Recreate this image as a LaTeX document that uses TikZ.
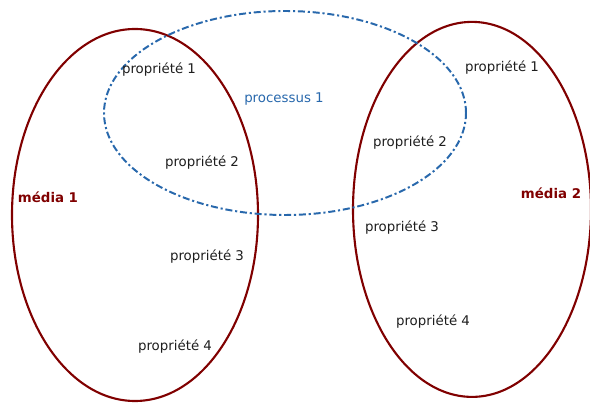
\documentclass[tikz,border=0pt]{standalone}
\usepackage{fontspec}
\setmainfont{DejaVu Sans}
\usepackage{tikz}
\usetikzlibrary{shapes.geometric}
\definecolor{mediared}{RGB}{128,0,0}
\definecolor{procblue}{RGB}{40,104,172}
\definecolor{labelgray}{RGB}{30,30,30}

\begin{document}
\begin{tikzpicture}[font=\fontsize{9.5}{11}\selectfont,every node/.style={text=labelgray},
	media/.style={draw=mediared,line width=1.5pt,ellipse,inner sep=0pt},
	process/.style={draw=procblue,line width=1.4pt,ellipse,inner sep=0pt,dash pattern=on 5pt off 2pt on 1.5pt off 2pt}]
	\useasboundingbox (0,0) rectangle (14.75,10.075);

	\node (media1) at (3.375,4.7) [media,minimum width=6.15cm,minimum height=9.3cm] {};
	\node (media2) at (11.8,4.84) [media,minimum width=5.95cm,minimum height=9.375cm] {};
	\node (proc1) at (7.125,7.25) [process,minimum width=9.05cm,minimum height=5.1cm] {};

	\node[text=mediared,font=\fontsize{9.5}{11}\selectfont\bfseries] (lab1) at (1.2,5.15) {média 1};
	\node[text=mediared,font=\fontsize{9.5}{11}\selectfont\bfseries] (lab2) at (13.775,5.25) {média 2};
	\node[text=procblue] (lab3) at (7.1,7.6) {processus 1};

	\node (m1p1) at (3.975,8.325) {propriété 1};
	\node (m1p2) at (5.05,6.0) {propriété 2};
	\node (m1p3) at (5.175,3.65) {propriété 3};
	\node (m1p4) at (4.375,1.4) {propriété 4};

	\node (m2p1) at (12.55,8.375) {propriété 1};
	\node (m2p2) at (10.25,6.5) {propriété 2};
	\node (m2p3) at (10.05,4.375) {propriété 3};
	\node (m2p4) at (10.825,2.025) {propriété 4};
\end{tikzpicture}
\end{document}
